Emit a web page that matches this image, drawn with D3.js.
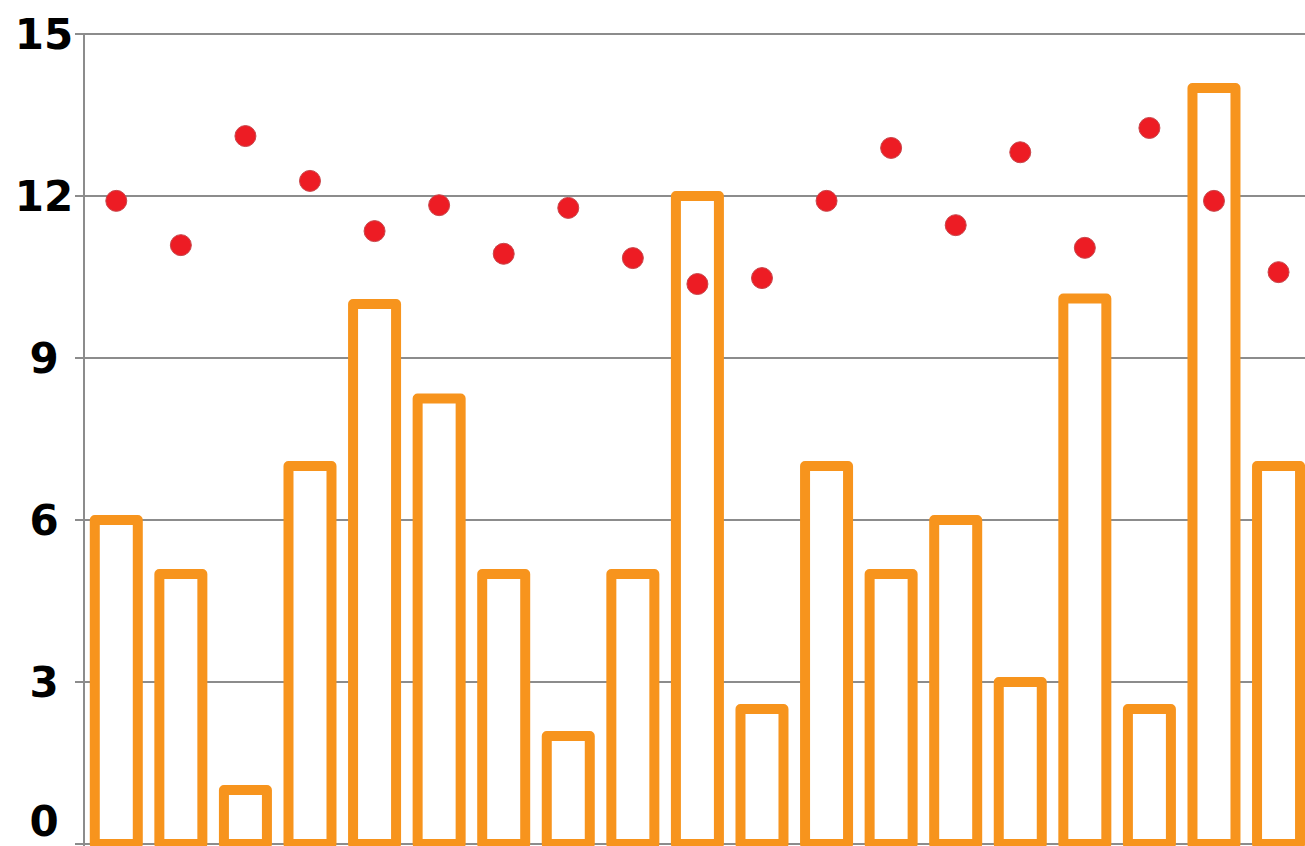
<!DOCTYPE html>
<html>
<head>
<meta charset="utf-8">
<script src="https://cdn.jsdelivr.net/npm/d3@7"></script>
<style>
  html, body { margin: 0; padding: 0; background: #ffffff; overflow: hidden; }
  svg { display: block; }
</style>
</head>
<body>
<svg id="chart" width="1305" height="846"></svg>
<script>
const categories = ["1","2","3","4","5","6","7","8","9","10","11","12","13","14","15","16","17","18","19"];
const barValues = [6, 5, 1, 7, 10, 8.25, 5, 2, 5, 12, 2.5, 7, 5, 6, 3, 10.1, 2.5, 14, 7];
const dotValues = [11.91, 11.09, 13.11, 12.28, 11.35, 11.83, 10.93, 11.78, 10.85, 10.37, 10.48, 11.91, 12.89, 11.46, 12.81, 11.04, 13.26, 11.91, 10.59];
const yTicks = [0, 3, 6, 9, 12, 15];

(function () {
  const svg = d3.select("#chart");
  const plotLeft = 84, plotTop = 34, plotBottom = 844;
  const step = 64.57;
  const plotRight = plotLeft + step * categories.length;

  const x = d3.scaleBand().domain(categories).range([plotLeft, plotRight])
    .paddingInner(0.334).paddingOuter(0.167);
  const y = d3.scaleLinear().domain([0, 15]).range([plotBottom, plotTop]);

  // grid lines + ticks
  svg.append("g").selectAll("line").data(yTicks).join("line")
    .attr("x1", 75).attr("x2", 1305)
    .attr("y1", d => y(d)).attr("y2", d => y(d))
    .attr("stroke", "#8c8c8c").attr("stroke-width", 2);

  // axis line
  svg.append("line")
    .attr("x1", plotLeft).attr("x2", plotLeft).attr("y1", plotTop).attr("y2", 846)
    .attr("stroke", "#8c8c8c").attr("stroke-width", 2);

  // tick labels
  svg.append("g").selectAll("text").data(yTicks).join("text")
    .attr("x", 44)
    .attr("y", d => d === 0 ? 836 : y(d) + 15)
    .attr("text-anchor", "middle")
    .attr("font-family", "DejaVu Sans, Verdana, sans-serif")
    .attr("font-weight", "bold")
    .attr("font-size", 42)
    .attr("fill", "#000")
    .text(d => d);

  // bars
  svg.append("g").selectAll("rect").data(barValues).join("rect")
    .attr("x", (d, i) => x(categories[i]))
    .attr("width", x.bandwidth())
    .attr("y", d => y(d))
    .attr("height", d => y(0) - y(d))
    .attr("fill", "#ffffff")
    .attr("stroke", "#f7941d")
    .attr("stroke-width", 10)
    .attr("stroke-linejoin", "round");

  // dots
  svg.append("g").selectAll("circle").data(dotValues).join("circle")
    .attr("cx", (d, i) => x(categories[i]) + x.bandwidth() / 2)
    .attr("cy", d => y(d))
    .attr("r", 10.5)
    .attr("fill", "#ed1c24")
    .attr("stroke", "#c8474c")
    .attr("stroke-width", 1);
})();
</script>
</body>
</html>
